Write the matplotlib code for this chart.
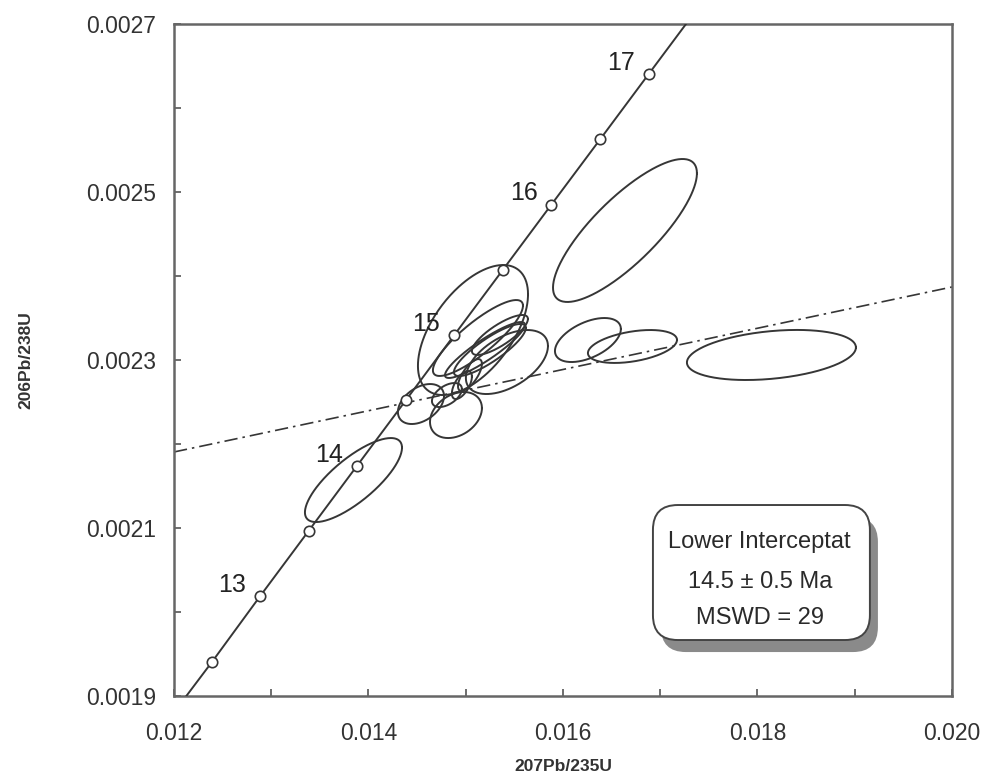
"""U-Pb concordia diagram with error ellipses and discordia line."""

import matplotlib.pyplot as plt
import numpy as np
from matplotlib.patches import FancyBboxPatch
from matplotlib.ticker import MultipleLocator, FormatStrFormatter

plt.rcParams["font.family"] = ["Liberation Sans", "DejaVu Sans"]

# Concordia points (age in Ma, 207Pb/235U, 206Pb/238U)
concordia_age = [12.0, 12.5, 13.0, 13.5, 14.0, 14.5, 15.0, 15.5, 16.0, 16.5, 17.0, 17.5]
concordia_x = [0.011888, 0.012387, 0.012885, 0.013384, 0.013883, 0.014383,
               0.014882, 0.015382, 0.015882, 0.016383, 0.016883, 0.017384]
concordia_y = [0.0018632, 0.0019399, 0.0020187, 0.0020964, 0.0021741, 0.0022518,
               0.0023296, 0.0024073, 0.0024851, 0.0025628, 0.0026406, 0.0027184]
labelled_ages = [13, 14, 15, 16, 17]

# Error ellipses: centre x, centre y, half-range x, half-range y, correlation
ell_x = [0.016638, 0.018144, 0.016715, 0.016257, 0.013846, 0.015075, 0.015126,
         0.015424, 0.015249, 0.014900, 0.014540, 0.014807, 0.014961, 0.015044,
         0.015198, 0.015352]
ell_y = [0.0024542, 0.0023060, 0.0023161, 0.0023238, 0.0021571, 0.0023357,
         0.0023262, 0.0022976, 0.0023119, 0.0022345, 0.0022476, 0.0022583,
         0.0022702, 0.0022821, 0.0023119, 0.0023298]
ell_dx = [0.000740, 0.000869, 0.000458, 0.000339, 0.000499, 0.000566, 0.000463,
          0.000422, 0.000370, 0.000267, 0.000237, 0.000154, 0.000103, 0.000123,
          0.000411, 0.000288]
ell_dy = [0.0000851, 0.0000298, 0.0000196, 0.0000262, 0.0000500, 0.0000774,
          0.0000452, 0.0000381, 0.0000310, 0.0000274, 0.0000238, 0.0000143,
          0.0000167, 0.0000190, 0.0000333, 0.0000238]
ell_rho = [0.80, 0.30, 0.40, 0.50, 0.77, 0.55, 0.85, 0.50, 0.85, 0.30, 0.40,
           0.50, 0.60, 0.70, 0.90, 0.80]

# Discordia line end points
discordia_x = [0.012, 0.020]
discordia_y = [0.0021905, 0.0023869]

# Axis ticks
x_ticks = [0.012, 0.014, 0.016, 0.018, 0.020]
y_ticks = [0.0019, 0.0021, 0.0023, 0.0025, 0.0027]

line_color = "#363636"

fig = plt.figure(figsize=(9.85, 7.8), dpi=100)
ax = fig.add_axes([0.1766, 0.1077, 0.7898, 0.8615])

# Discordia
ax.plot(discordia_x, discordia_y, color=line_color, lw=1.2,
        dashes=(8, 3, 1.5, 3))

# Ellipses
t = np.linspace(0, 2 * np.pi, 300)
for cx, cy, dx, dy, r in zip(ell_x, ell_y, ell_dx, ell_dy, ell_rho):
    ex = cx + dx * np.cos(t)
    ey = cy + dy * (r * np.cos(t) + np.sqrt(1 - r * r) * np.sin(t))
    ax.plot(ex, ey, color=line_color, lw=1.4)

# Concordia curve with age markers
ax.plot(concordia_x, concordia_y, color=line_color, lw=1.4, marker="o",
        markersize=7.5, markerfacecolor="white", markeredgecolor=line_color,
        markeredgewidth=1.2, zorder=5)
for age, x, y in zip(concordia_age, concordia_x, concordia_y):
    if age in labelled_ages:
        ax.annotate(f"{age:g}", (x, y), xytext=(-20, 8),
                    textcoords="offset points", ha="center", va="center",
                    fontsize=18, color="#222222")

ax.set_xlim(0.012, 0.020)
ax.set_ylim(0.0019, 0.0027)
ax.set_xticks(x_ticks)
ax.set_yticks(y_ticks)
ax.xaxis.set_minor_locator(MultipleLocator(0.001))
ax.yaxis.set_minor_locator(MultipleLocator(0.0001))
ax.xaxis.set_major_formatter(FormatStrFormatter("%.3f"))
ax.yaxis.set_major_formatter(FormatStrFormatter("%.4f"))
ax.tick_params(which="both", direction="in", length=5, width=1.2,
               color="#555555", labelsize=16.5, labelcolor="#333333")
ax.tick_params(axis="x", which="major", pad=19)
ax.tick_params(axis="y", which="major", pad=13)
for spine in ax.spines.values():
    spine.set_color("#666666")
    spine.set_linewidth(1.8)

ax.set_xlabel("207Pb/235U", fontsize=12.5, fontweight="bold",
              color="#333333", labelpad=10)
ax.set_ylabel("206Pb/238U", fontsize=12.5, fontweight="bold",
              color="#333333", labelpad=38)

# Result box with shadow
box_x0, box_y0, box_w, box_h = 0.6157, 0.0833, 0.2789, 0.2009
shadow = FancyBboxPatch((box_x0 + 0.0103, box_y0 - 0.0179), box_w, box_h,
                        boxstyle="round,pad=0,rounding_size=0.032",
                        mutation_aspect=1.157, transform=ax.transAxes,
                        facecolor="#8a8a8a", edgecolor="none", zorder=6)
box = FancyBboxPatch((box_x0, box_y0), box_w, box_h,
                     boxstyle="round,pad=0,rounding_size=0.032",
                     mutation_aspect=1.157, transform=ax.transAxes,
                     facecolor="white", edgecolor="#444444", lw=1.4, zorder=7)
ax.add_patch(shadow)
ax.add_patch(box)
box_lines = ["Lower Interceptat", "14.5 \u00b1 0.5 Ma", "MSWD = 29"]
box_line_y = [0.229, 0.1696, 0.116]
for txt, ty in zip(box_lines, box_line_y):
    ax.text(0.753, ty, txt, transform=ax.transAxes, ha="center", va="center",
            fontsize=17, color="#2a2a2a", zorder=8)

fig.savefig("out.png", dpi=100)
